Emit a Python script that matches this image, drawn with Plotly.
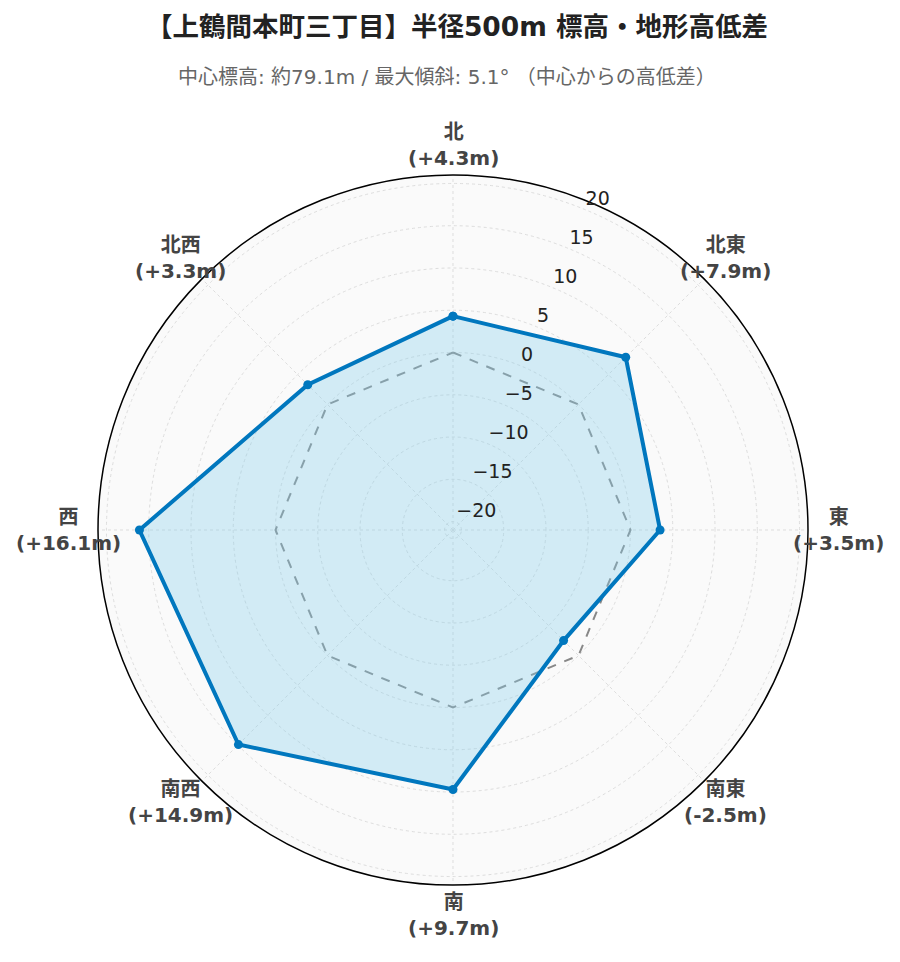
import math
import plotly.graph_objects as go

directions = ["北", "北東", "東", "南東", "南", "南西", "西", "北西"]
diffs = [4.3, 7.9, 3.5, -2.5, 9.7, 14.9, 16.1, 3.3]
radial_ticks = [-20, -15, -10, -5, 0, 5, 10, 15, 20]
radial_tick_text = [str(v).replace("-", "\u2212") for v in radial_ticks]
RANGE = [-21, 21]
TICK_ANGLE = 67.5

labels = [f"<b>{d}</b><br><b>({v:+.1f}m)</b>" for d, v in zip(directions, diffs)]
theta = directions + [directions[0]]
r = diffs + [diffs[0]]
zero = [0] * len(theta)

FONT = "DejaVu Sans, Noto Sans CJK JP, sans-serif"
W, H = 900, 962
OFF = 8                           # page body margin compensation
CX, CY, RAD = 453 - OFF, 530 - OFF, 355
LABEL_RAD = 385

fig = go.Figure()
fig.add_trace(go.Scatterpolar(
    r=zero, theta=theta, mode="lines",
    line=dict(color="#888888", width=2, dash="dash"),
    showlegend=False, hoverinfo="skip"))
fig.add_trace(go.Scatterpolar(
    r=r, theta=theta, mode="lines+markers", fill="toself",
    fillcolor="rgba(135,206,235,0.35)",
    line=dict(color="#0077BE", width=4),
    marker=dict(size=9, color="#0077BE"),
    showlegend=False))
# radial tick labels, drawn on an overlaid transparent polar with the same scale
fig.add_trace(go.Scatterpolar(
    r=radial_ticks, theta=[TICK_ANGLE] * len(radial_ticks), mode="text",
    text=radial_tick_text, textposition="top right",
    textfont=dict(size=19, color="#222222", family=FONT),
    subplot="polar2", showlegend=False, hoverinfo="skip"))

annotations = [dict(
    text="中心標高: 約79.1m / 最大傾斜: 5.1° （中心からの高低差）",
    xref="paper", yref="paper", x=(447 - OFF) / W, y=1 - (77 - OFF) / H,
    xanchor="center", yanchor="middle", showarrow=False,
    font=dict(size=20, color="#666666", family=FONT))]
for i, lab in enumerate(labels):
    ang = math.radians(90 - 45 * i)
    px = CX + LABEL_RAD * math.cos(ang)
    py = CY - LABEL_RAD * math.sin(ang)
    annotations.append(dict(
        text=lab, xref="paper", yref="paper", x=px / W, y=1 - py / H,
        xanchor="center", yanchor="middle", align="center", showarrow=False,
        font=dict(size=20, color="#444444", family=FONT)))

domain = dict(x=[(CX - RAD) / W, (CX + RAD) / W],
              y=[1 - (CY + RAD) / H, 1 - (CY - RAD) / H])

fig.update_layout(
    width=W, height=H,
    paper_bgcolor="white",
    font=dict(family=FONT, color="#444444"),
    title=dict(
        text="<b>【上鶴間本町三丁目】半径500m 標高・地形高低差</b>",
        x=(457 - OFF) / W, xanchor="center", y=1 - (27 - OFF) / H, yanchor="middle",
        font=dict(size=26.5, color="#222222", family=FONT)),
    annotations=annotations,
    margin=dict(l=0, r=0, t=0, b=0),
    polar=dict(
        bgcolor="#fafafa",
        domain=domain,
        radialaxis=dict(
            range=RANGE, tickvals=radial_ticks, angle=TICK_ANGLE,
            showline=False, ticks="", showticklabels=False,
            gridcolor="#dddddd", griddash="dot", gridwidth=1),
        angularaxis=dict(
            direction="clockwise", rotation=90,
            showline=True, linecolor="black", linewidth=1.5,
            gridcolor="#dddddd", griddash="dot", ticks="",
            showticklabels=False)),
    polar2=dict(
        bgcolor="rgba(0,0,0,0)",
        domain=domain,
        radialaxis=dict(range=RANGE, visible=False),
        angularaxis=dict(visible=False)),
)

fig.write_html("out.html")
